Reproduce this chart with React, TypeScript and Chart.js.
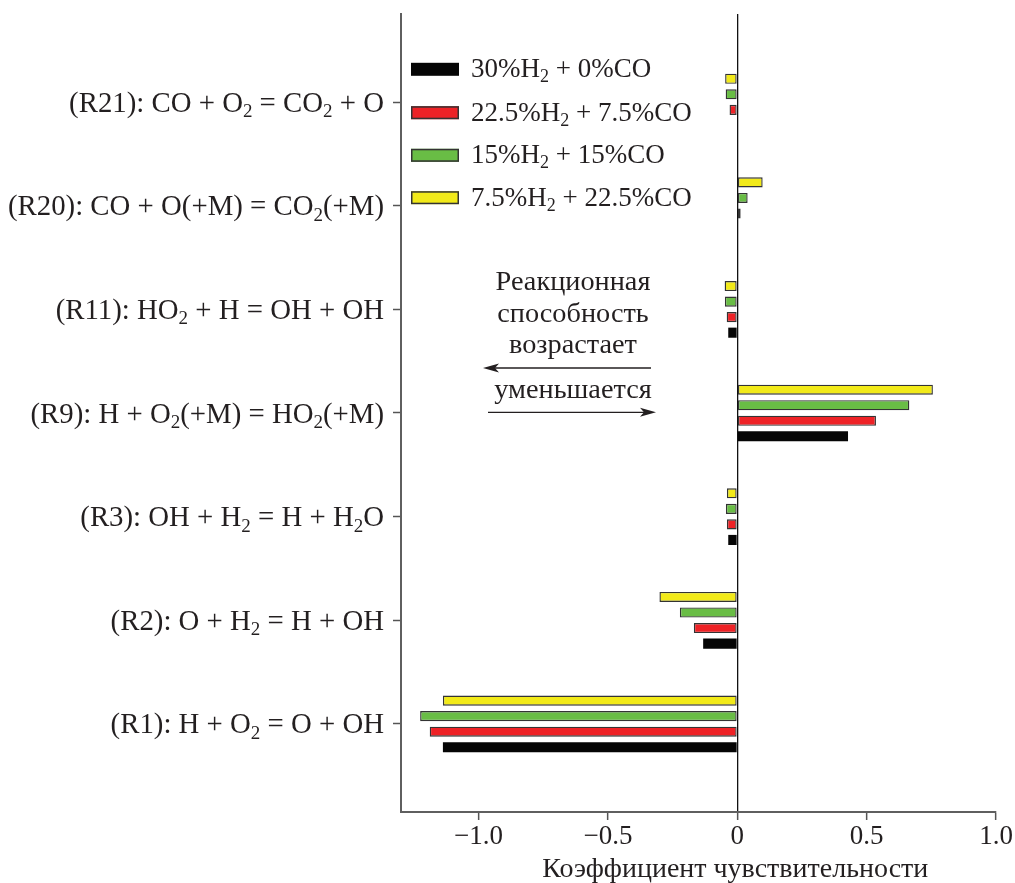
import React, { useEffect, useRef } from 'react';
import { Chart, registerables } from 'chart.js';

Chart.register(...registerables);

// ---- data ----
const categories = [
  '(R21): CO + O_2 = CO_2 + O',
  '(R20): CO + O(+M) = CO_2(+M)',
  '(R11): HO_2 + H = OH + OH',
  '(R9): H + O_2(+M) = HO_2(+M)',
  '(R3): OH + H_2 = H + H_2O',
  '(R2): O + H_2 = H + OH',
  '(R1): H + O_2 = O + OH',
];
const seriesLabels = ['30%H_2 + 0%CO', '22.5%H_2 + 7.5%CO', '15%H_2 + 15%CO', '7.5%H_2 + 22.5%CO'];
const h30co0 = [0, 0, -0.035, 0.428, -0.035, -0.132, -1.138];
const h225co75 = [-0.03, 0.013, -0.041, 0.536, -0.04, -0.168, -1.189];
const h15co15 = [-0.045, 0.04, -0.048, 0.665, -0.044, -0.222, -1.226];
const h75co225 = [-0.047, 0.098, -0.049, 0.756, -0.04, -0.301, -1.138];
const seriesValues = [h30co0, h225co75, h15co15, h75co225];
const seriesColors = ['#050505', '#ee2226', '#69bd45', '#f2ea19'];
const xTickValues = [-1.0, -0.5, 0, 0.5, 1.0];
const annotationUpper = ['Реакционная', 'способность', 'возрастает'];
const annotationLower = 'уменьшается';
const axisTitle = 'Коэффициент чувствительности';

const FONT = '"Liberation Serif", "Times New Roman", serif';
const TEXT = '#231f20';

type Seg = { t: string; sub: boolean };
function parseRich(s: string): Seg[] {
  const segs: Seg[] = [];
  let buf = '';
  for (let i = 0; i < s.length; i++) {
    if (s[i] === '_' && i + 1 < s.length) {
      if (buf) segs.push({ t: buf, sub: false });
      buf = '';
      segs.push({ t: s[i + 1], sub: true });
      i++;
    } else buf += s[i];
  }
  if (buf) segs.push({ t: buf, sub: false });
  return segs;
}

function drawRich(ctx: CanvasRenderingContext2D, s: string, x: number, y: number, align: string, size: number) {
  const segs = parseRich(s);
  const subSize = Math.round(size * 0.65);
  const widths = segs.map((sg) => {
    ctx.font = `${sg.sub ? subSize : size}px ${FONT}`;
    return ctx.measureText(sg.t).width;
  });
  const total = widths.reduce((a, b) => a + b, 0);
  let cx = align === 'right' ? x - total : align === 'center' ? x - total / 2 : x;
  ctx.textAlign = 'left';
  ctx.textBaseline = 'alphabetic';
  segs.forEach((sg, k) => {
    ctx.font = `${sg.sub ? subSize : size}px ${FONT}`;
    ctx.fillText(sg.t, cx, sg.sub ? y + size * 0.19 : y);
    cx += widths[k];
  });
}

function arrow(ctx: CanvasRenderingContext2D, x0: number, x1: number, y: number) {
  const dir = x1 > x0 ? 1 : -1;
  const headLen = 16;
  ctx.strokeStyle = TEXT;
  ctx.lineWidth = 1.3;
  ctx.beginPath();
  ctx.moveTo(x0, y);
  ctx.lineTo(x1 - dir * headLen * 0.6, y);
  ctx.stroke();
  ctx.fillStyle = TEXT;
  ctx.beginPath();
  ctx.moveTo(x1, y);
  ctx.lineTo(x1 - dir * headLen, y - 4.5);
  ctx.lineTo(x1 - dir * headLen * 0.75, y);
  ctx.lineTo(x1 - dir * headLen, y + 4.5);
  ctx.closePath();
  ctx.fill();
}

const overlayPlugin = {
  id: 'overlay',
  afterDraw(chart: any) {
    const ctx: CanvasRenderingContext2D = chart.ctx;
    const yScale = chart.scales.y;
    const xScale = chart.scales.x;
    ctx.save();
    categories.forEach((c, i) => {
      const py = yScale.getPixelForValue(categories.length - 1 - i);
      ctx.fillStyle = TEXT;
      drawRich(ctx, c, 384, py + 9.5, 'right', 28.8);
    });
    const legendY = [69.3, 112.7, 155.3, 197.7];
    seriesLabels.forEach((lab, i) => {
      const cy = legendY[i];
      ctx.fillStyle = seriesColors[i];
      ctx.fillRect(411, cy - 6.5, 48, 13);
      if (i > 0) {
        ctx.strokeStyle = '#333333';
        ctx.lineWidth = 1.5;
        ctx.strokeRect(411.75, cy - 5.75, 46.5, 11.5);
      }
      ctx.fillStyle = TEXT;
      drawRich(ctx, lab, 471, cy + 8, 'left', 27);
    });
    const annX = 573;
    const annBase = [290, 321.7, 353.3];
    annotationUpper.forEach((t, i) => {
      ctx.fillStyle = TEXT;
      drawRich(ctx, t, annX, annBase[i], 'center', 28.3);
    });
    arrow(ctx, 651, 483, 368);
    ctx.fillStyle = TEXT;
    drawRich(ctx, annotationLower, annX, 398.3, 'center', 28.3);
    arrow(ctx, 488, 656, 412.3);
    ctx.fillStyle = TEXT;
    drawRich(ctx, axisTitle, xScale.getPixelForValue(0) - 2, 877, 'center', 28);
    ctx.restore();
  },
};

export default function App() {
  const ref = useRef<HTMLCanvasElement | null>(null);
  useEffect(() => {
    if (!ref.current) return;
    const n = categories.length;
    const order = [3, 2, 1, 0];
    const datasets = order.map((s) => ({
      label: seriesLabels[s],
      data: seriesValues[s].map((v, i) => ({ x: v, y: n - 1 - i })),
      backgroundColor: seriesColors[s],
      borderColor: '#333333',
      borderWidth: s === 0 ? 0 : 1.4,
      borderSkipped: false as any,
      categoryPercentage: 0.6,
      barPercentage: 0.65,
    }));
    const chart = new Chart(ref.current, {
      type: 'bar',
      data: { datasets },
      options: {
        indexAxis: 'y',
        animation: false,
        responsive: true,
        maintainAspectRatio: false,
        layout: { padding: { top: 14, right: 19, left: 0, bottom: 0 } },
        plugins: { legend: { display: false }, tooltip: { enabled: false } },
        scales: {
          x: {
            type: 'linear',
            min: -1.3,
            max: 1.0,
            offset: false,
            afterFit: (scale: any) => {
              scale.height = 71;
            },
            afterBuildTicks: (scale: any) => {
              scale.ticks = xTickValues.map((v) => ({ value: v }));
            },
            ticks: {
              includeBounds: false,
              stepSize: 0.5,
              padding: 1,
              color: TEXT,
              font: { family: FONT, size: 27 },
              maxRotation: 0,
              callback: (v: any) => {
                const num = Number(v);
                if (Math.abs(num) < 1e-9) return '0';
                return (num < 0 ? '\u2212' : '') + Math.abs(num).toFixed(1);
              },
            },
            grid: {
              display: true,
              offset: false,
              drawOnChartArea: true,
              drawTicks: true,
              tickLength: 8,
              tickColor: '#555555',
              tickWidth: 1.5,
              color: (c: any) => (c.tick && Math.abs(c.tick.value) < 1e-9 ? '#111111' : 'rgba(0,0,0,0)'),
              lineWidth: 1.3,
            },
            border: { display: true, color: '#5f5f5f', width: 2 },
          },
          y: {
            type: 'linear',
            min: -0.85,
            max: 6.85,
            offset: false,
            afterFit: (scale: any) => {
              scale.width = 401;
            },
            ticks: {
              includeBounds: false,
              stepSize: 1,
              callback: () => '',
            },
            grid: {
              display: true,
              offset: false,
              drawOnChartArea: false,
              drawTicks: true,
              tickLength: 8,
              tickColor: '#555555',
              tickWidth: 1.5,
            },
            border: { display: true, color: '#5f5f5f', width: 2 },
          },
        },
      },
      plugins: [overlayPlugin],
    } as any);
    return () => chart.destroy();
  }, []);
  return (
    <div style={{ position: 'absolute', left: 0, top: 0, width: 1015, height: 883, background: '#fff' }}>
      <canvas ref={ref} />
    </div>
  );
}
